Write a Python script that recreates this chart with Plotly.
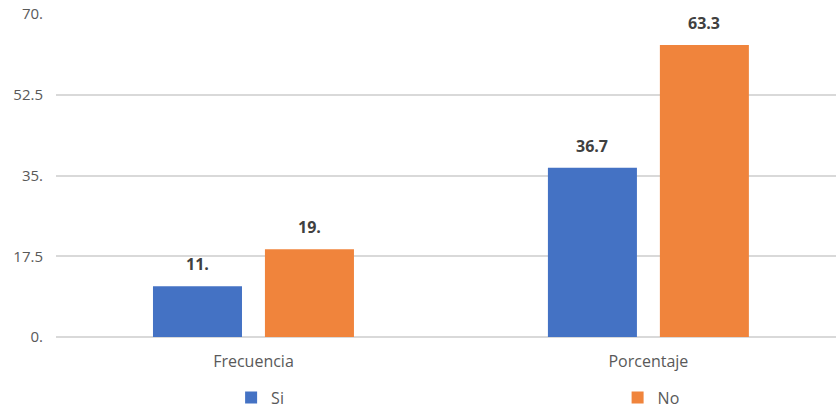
import plotly.graph_objects as go

categories = ["Frecuencia", "Porcentaje"]
si_values = [11.0, 36.7]
no_values = [19.0, 63.3]
si_labels = ["11.", "36.7"]
no_labels = ["19.", "63.3"]
tick_values = [0, 17.5, 35, 52.5, 70]
tick_labels = ["0.", "17.5", "35.", "52.5", "70."]

fig = go.Figure()

fig.add_trace(
    go.Bar(
        x=categories,
        y=si_values,
        name="Si",
        marker=dict(color="#4472c4", line=dict(width=0)),
        hoverinfo="skip",
        legend="legend",
    )
)
fig.add_trace(
    go.Bar(
        x=categories,
        y=no_values,
        name="No",
        marker=dict(color="#f0843c", line=dict(width=0)),
        hoverinfo="skip",
        legend="legend2",
    )
)

# value labels above the bars
for i, cat in enumerate(categories):
    for val, lab, off in [(si_values[i], si_labels[i], -0.1418), (no_values[i], no_labels[i], 0.1418)]:
        fig.add_annotation(
            x=i + off,
            y=val,
            text=f"<b>{lab}</b>",
            showarrow=False,
            yanchor="bottom",
            yshift=9,
            font=dict(size=16, color="#404040"),
        )

legend_style = dict(
    orientation="h",
    xanchor="left",
    y=-0.188,
    yanchor="middle",
    font=dict(size=16, color="#595959"),
    itemclick=False,
    bgcolor="rgba(0,0,0,0)",
)

fig.update_layout(
    width=836,
    height=408,
    margin=dict(l=56, r=0, t=14, b=71, autoexpand=False),
    paper_bgcolor="white",
    plot_bgcolor="white",
    font=dict(family="Open Sans, sans-serif", size=14, color="#595959"),
    barmode="group",
    bargap=0.433,
    bargroupgap=0.205,
    showlegend=True,
    legend=dict(x=0.2245, **legend_style),
    legend2=dict(x=0.72, **legend_style),
)

fig.update_xaxes(
    type="category",
    range=[-0.5, 1.475],
    showgrid=False,
    showline=False,
    ticks="",
    ticklabelstandoff=13,
    tickfont=dict(size=16, color="#595959"),
)
fig.update_yaxes(
    range=[0, 70],
    tickmode="array",
    tickvals=tick_values,
    ticktext=tick_labels,
    showgrid=True,
    gridcolor="#d9d9d9",
    gridwidth=2,
    zeroline=True,
    zerolinecolor="#d9d9d9",
    zerolinewidth=2,
    showline=False,
    ticks="",
    ticklabelstandoff=12,
    tickfont=dict(size=15, color="#595959"),
)

# drop the page margin so the figure sits at the window's top-left corner
fig.write_html(
    "out.html",
    config={"displayModeBar": False},
    post_script="document.body.style.margin='0';document.body.style.overflow='hidden';",
)
